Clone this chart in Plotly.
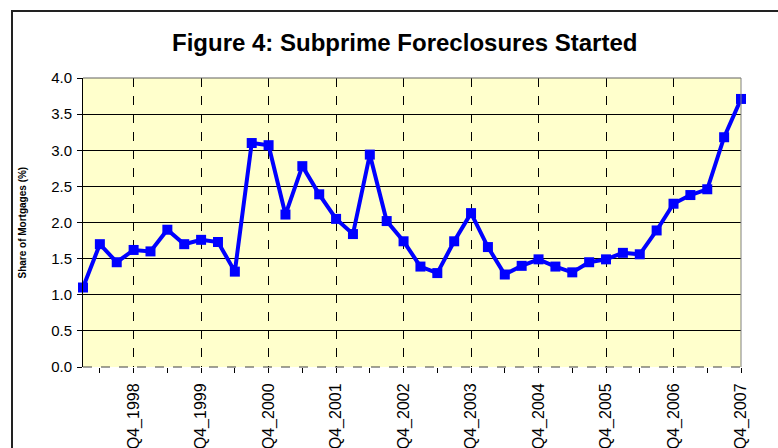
import plotly.graph_objects as go

quarters = [f"Q{q}_{y}" for y in range(1998, 2008) for q in range(1, 5)]
share_pct = [1.10, 1.70, 1.45, 1.62, 1.60, 1.90, 1.70, 1.76, 1.73, 1.32,
             3.10, 3.07, 2.11, 2.78, 2.39, 2.05, 1.84, 2.94, 2.02, 1.74,
             1.39, 1.30, 1.74, 2.13, 1.66, 1.28, 1.40, 1.49, 1.39, 1.31,
             1.45, 1.49, 1.58, 1.56, 1.89, 2.26, 2.38, 2.46, 3.18, 3.71]
y_ticks = [0.0, 0.5, 1.0, 1.5, 2.0, 2.5, 3.0, 3.5, 4.0]

idx = list(range(len(quarters)))
label_idx = [i for i, q in enumerate(quarters) if q.startswith("Q4")]
label_txt = [quarters[i] for i in label_idx]

W, H = 778, 448
L, R, T, B = 83, 741, 78, 367

def px_x(p):
    return (p - L) / (R - L)

def px_y(p):
    return (B - p) / (B - T)

fig = go.Figure()
fig.add_trace(go.Scatter(
    x=idx, y=share_pct, mode="lines+markers",
    line=dict(color="#0000FF", width=4),
    marker=dict(symbol="square", size=10, color="#0000FF"),
    customdata=quarters, hovertemplate="%{customdata}: %{y}<extra></extra>",
    cliponaxis=False,
))

fig.update_layout(
    width=W, height=H,
    margin=dict(l=L, r=W - R, t=T, b=H - B, autoexpand=False),
    paper_bgcolor="white", plot_bgcolor="#FFFFCC",
    showlegend=False,
    font=dict(family="Liberation Sans, Arial, sans-serif", color="black"),
    xaxis=dict(
        range=[0, len(quarters) - 1], tickmode="array",
        tickvals=label_idx, ticktext=label_txt, tickangle=-90,
        tickfont=dict(size=16), ticks="outside", ticklen=5, tickcolor="black",
        ticklabelstandoff=4, automargin=False,
        showgrid=True, gridcolor="black", griddash="dash", gridwidth=1,
        minor=dict(tick0=1, dtick=2, ticks="outside", ticklen=5,
                   tickcolor="black", showgrid=False),
        showline=False, zeroline=False, fixedrange=True,
    ),
    yaxis=dict(
        range=[0, 4], tickmode="array", tickvals=y_ticks,
        ticktext=[f"{v:.1f}" for v in y_ticks],
        tickfont=dict(size=15), ticks="outside", ticklen=5, tickcolor="black",
        ticklabelstandoff=2, automargin=False,
        showgrid=True, gridcolor="black", gridwidth=1,
        showline=True, linecolor="black", linewidth=1,
        zeroline=False, fixedrange=True,
    ),
    annotations=[
        dict(text="<b>Figure 4: Subprime Foreclosures Started</b>",
             xref="paper", yref="paper", x=px_x(404), y=px_y(42),
             xanchor="center", yanchor="middle", showarrow=False,
             font=dict(size=24, family="Liberation Sans, Arial, sans-serif")),
        dict(text="<b>Share of Mortgages (%)</b>", textangle=-90,
             xref="paper", yref="paper", x=px_x(22), y=0.5,
             xanchor="center", yanchor="middle", showarrow=False,
             font=dict(size=10, family="Liberation Sans, Arial, sans-serif")),
    ],
    shapes=[
        dict(type="rect", xref="paper", yref="paper", layer="below",
             x0=px_x(12), x1=px_x(820), y0=px_y(500), y1=px_y(11),
             line=dict(color="#222222", width=2)),
        dict(type="line", xref="paper", yref="paper",
             x0=0, x1=1, y0=1, y1=1, line=dict(color="#606060", width=1)),
        dict(type="line", xref="paper", yref="paper",
             x0=1, x1=1, y0=0, y1=1, line=dict(color="#808080", width=1)),
        dict(type="line", xref="paper", yref="paper",
             x0=0, x1=1, y0=0, y1=0, line=dict(color="#404040", width=1, dash="dash")),
    ],
)

fig.write_html("out.html", config={"displayModeBar": False},
               post_script="document.body.style.margin='0';")
